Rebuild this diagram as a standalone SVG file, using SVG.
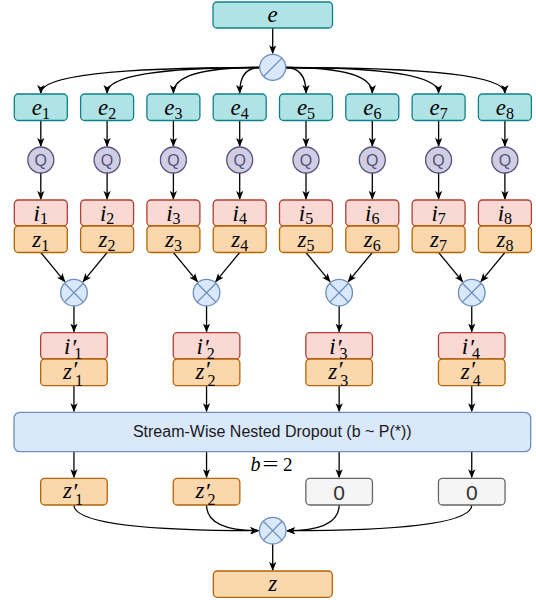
<svg xmlns="http://www.w3.org/2000/svg" width="536" height="600" viewBox="0 0 536 600">
<defs>
<marker id="ah" viewBox="0 0 10 8" refX="9" refY="4" markerWidth="9" markerHeight="7.5" markerUnits="userSpaceOnUse" orient="auto">
<path d="M0,0 L10,4 L0,8 L2.5,4 z" fill="#000"/>
</marker>
<style>
.teal{fill:#b0e3e6;stroke:#0e8088;stroke-width:1.3}
.q{fill:#d0cee2;stroke:#56517e;stroke-width:1.3}
.red{fill:#fad9d5;stroke:#ae4132;stroke-width:1.3}
.org{fill:#fad7ac;stroke:#b46504;stroke-width:1.3}
.blue{fill:#dae8fc;stroke:#6c8ebf;stroke-width:1.3}
.gray{fill:#f5f5f5;stroke:#666666;stroke-width:1.3}
.sym{fill:none;stroke:#6c8ebf;stroke-width:1.3}
.m{font-family:"Liberation Serif","DejaVu Serif",serif;font-style:italic;font-size:23px;fill:#000}
.sub{font-family:"Liberation Serif","DejaVu Serif",serif;font-size:16px;fill:#000}
.pr{font-family:"Liberation Serif","DejaVu Serif",serif;font-size:24px;fill:#000}
.qt{font-family:"Liberation Sans",Arial,sans-serif;font-size:16px;fill:#56517e;text-anchor:middle}
.zero{font-family:"Liberation Sans",Arial,sans-serif;font-size:21px;fill:#333333;text-anchor:middle}
.lbl{font-family:"Liberation Sans",Arial,sans-serif;font-size:16px;fill:#1a1a1a;text-anchor:middle}
.c{fill:none;stroke:#000;stroke-width:1.3;marker-end:url(#ah)}
</style>
</defs>
<rect width="536" height="600" fill="#ffffff"/>

<g id="connectors">
<path class="c" d="M272.7 28 V53.3"/>
<path class="c" d="M259.7 67.5 Q40.8 67.5 40.8 93"/>
<path class="c" d="M259.7 67.5 Q107.1 67.5 107.1 93"/>
<path class="c" d="M259.7 67.5 Q173.4 67.5 173.4 93"/>
<path class="c" d="M259.7 67.5 Q239.7 67.5 239.7 93"/>
<path class="c" d="M285.7 67.5 Q306 67.5 306 93"/>
<path class="c" d="M285.7 67.5 Q372.3 67.5 372.3 93"/>
<path class="c" d="M285.7 67.5 Q438.6 67.5 438.6 93"/>
<path class="c" d="M285.7 67.5 Q504.9 67.5 504.9 93"/>
<path class="c" d="M40.8 120.5 V146"/>
<path class="c" d="M107.1 120.5 V146"/>
<path class="c" d="M173.4 120.5 V146"/>
<path class="c" d="M239.7 120.5 V146"/>
<path class="c" d="M306 120.5 V146"/>
<path class="c" d="M372.3 120.5 V146"/>
<path class="c" d="M438.6 120.5 V146"/>
<path class="c" d="M504.9 120.5 V146"/>
<path class="c" d="M40.8 173 V199"/>
<path class="c" d="M107.1 173 V199"/>
<path class="c" d="M173.4 173 V199"/>
<path class="c" d="M239.7 173 V199"/>
<path class="c" d="M306 173 V199"/>
<path class="c" d="M372.3 173 V199"/>
<path class="c" d="M438.6 173 V199"/>
<path class="c" d="M504.9 173 V199"/>
<path class="c" d="M40.8 252.5 L64.81 281.63"/>
<path class="c" d="M107.1 252.5 L83.09 281.63"/>
<path class="c" d="M173.4 252.5 L197.41 281.63"/>
<path class="c" d="M239.7 252.5 L215.69 281.63"/>
<path class="c" d="M306 252.5 L330.01 281.63"/>
<path class="c" d="M372.3 252.5 L348.29 281.63"/>
<path class="c" d="M438.6 252.5 L462.61 281.63"/>
<path class="c" d="M504.9 252.5 L480.89 281.63"/>
<path class="c" d="M73.95 306 V331.7"/>
<path class="c" d="M206.55 306 V331.7"/>
<path class="c" d="M339.15 306 V331.7"/>
<path class="c" d="M471.75 306 V331.7"/>
<path class="c" d="M73.95 385.7 V411.3"/>
<path class="c" d="M206.55 385.7 V411.3"/>
<path class="c" d="M339.15 385.7 V411.3"/>
<path class="c" d="M471.75 385.7 V411.3"/>
<path class="c" d="M73.95 451.7 V477.3"/>
<path class="c" d="M206.55 451.7 V477.3"/>
<path class="c" d="M339.15 451.7 V477.3"/>
<path class="c" d="M471.75 451.7 V477.3"/>
<path class="c" d="M73.95 505 Q73.95 530.7 258.4 530.7"/>
<path class="c" d="M206.55 505 Q206.55 530.7 258.4 530.7"/>
<path class="c" d="M339.15 505 Q339.15 530.7 287 530.7"/>
<path class="c" d="M471.75 505 Q471.75 530.7 287 530.7"/>
<path class="c" d="M272.7 544 V570"/>
</g>

<g id="node-e">
<rect class="teal" x="213" y="2" width="119.5" height="26" rx="4"/>
<text class="m" x="272.7" y="22" text-anchor="middle">e</text>
</g>

<g id="node-split">
<circle class="blue" cx="272.7" cy="67.3" r="13"/>
<line class="sym" x1="263.5" y1="76.5" x2="281.9" y2="58.1"/>
</g>

<g id="node-e1"><rect class="teal" x="14.3" y="94" width="53" height="26.5" rx="4"/><text x="40.8" y="115" text-anchor="middle"><tspan class="m">e</tspan><tspan class="sub" dy="4">1</tspan></text></g>
<g id="node-e2"><rect class="teal" x="80.6" y="94" width="53" height="26.5" rx="4"/><text x="107.1" y="115" text-anchor="middle"><tspan class="m">e</tspan><tspan class="sub" dy="4">2</tspan></text></g>
<g id="node-e3"><rect class="teal" x="146.9" y="94" width="53" height="26.5" rx="4"/><text x="173.4" y="115" text-anchor="middle"><tspan class="m">e</tspan><tspan class="sub" dy="4">3</tspan></text></g>
<g id="node-e4"><rect class="teal" x="213.2" y="94" width="53" height="26.5" rx="4"/><text x="239.7" y="115" text-anchor="middle"><tspan class="m">e</tspan><tspan class="sub" dy="4">4</tspan></text></g>
<g id="node-e5"><rect class="teal" x="279.5" y="94" width="53" height="26.5" rx="4"/><text x="306" y="115" text-anchor="middle"><tspan class="m">e</tspan><tspan class="sub" dy="4">5</tspan></text></g>
<g id="node-e6"><rect class="teal" x="345.8" y="94" width="53" height="26.5" rx="4"/><text x="372.3" y="115" text-anchor="middle"><tspan class="m">e</tspan><tspan class="sub" dy="4">6</tspan></text></g>
<g id="node-e7"><rect class="teal" x="412.1" y="94" width="53" height="26.5" rx="4"/><text x="438.6" y="115" text-anchor="middle"><tspan class="m">e</tspan><tspan class="sub" dy="4">7</tspan></text></g>
<g id="node-e8"><rect class="teal" x="478.4" y="94" width="53" height="26.5" rx="4"/><text x="504.9" y="115" text-anchor="middle"><tspan class="m">e</tspan><tspan class="sub" dy="4">8</tspan></text></g>

<g id="node-q1"><circle class="q" cx="40.8" cy="160" r="13"/><text class="qt" x="40.8" y="166">Q</text></g>
<g id="node-q2"><circle class="q" cx="107.1" cy="160" r="13"/><text class="qt" x="107.1" y="166">Q</text></g>
<g id="node-q3"><circle class="q" cx="173.4" cy="160" r="13"/><text class="qt" x="173.4" y="166">Q</text></g>
<g id="node-q4"><circle class="q" cx="239.7" cy="160" r="13"/><text class="qt" x="239.7" y="166">Q</text></g>
<g id="node-q5"><circle class="q" cx="306" cy="160" r="13"/><text class="qt" x="306" y="166">Q</text></g>
<g id="node-q6"><circle class="q" cx="372.3" cy="160" r="13"/><text class="qt" x="372.3" y="166">Q</text></g>
<g id="node-q7"><circle class="q" cx="438.6" cy="160" r="13"/><text class="qt" x="438.6" y="166">Q</text></g>
<g id="node-q8"><circle class="q" cx="504.9" cy="160" r="13"/><text class="qt" x="504.9" y="166">Q</text></g>

<g id="node-iz1"><rect class="red" x="14.3" y="200" width="53" height="26" rx="4"/><rect class="org" x="14.3" y="226" width="53" height="26.5" rx="4"/><text x="40.8" y="220.5" text-anchor="middle"><tspan class="m">i</tspan><tspan class="sub" dy="3.5">1</tspan></text><text x="40.8" y="247" text-anchor="middle"><tspan class="m">z</tspan><tspan class="sub" dy="4">1</tspan></text></g>
<g id="node-iz2"><rect class="red" x="80.6" y="200" width="53" height="26" rx="4"/><rect class="org" x="80.6" y="226" width="53" height="26.5" rx="4"/><text x="107.1" y="220.5" text-anchor="middle"><tspan class="m">i</tspan><tspan class="sub" dy="3.5">2</tspan></text><text x="107.1" y="247" text-anchor="middle"><tspan class="m">z</tspan><tspan class="sub" dy="4">2</tspan></text></g>
<g id="node-iz3"><rect class="red" x="146.9" y="200" width="53" height="26" rx="4"/><rect class="org" x="146.9" y="226" width="53" height="26.5" rx="4"/><text x="173.4" y="220.5" text-anchor="middle"><tspan class="m">i</tspan><tspan class="sub" dy="3.5">3</tspan></text><text x="173.4" y="247" text-anchor="middle"><tspan class="m">z</tspan><tspan class="sub" dy="4">3</tspan></text></g>
<g id="node-iz4"><rect class="red" x="213.2" y="200" width="53" height="26" rx="4"/><rect class="org" x="213.2" y="226" width="53" height="26.5" rx="4"/><text x="239.7" y="220.5" text-anchor="middle"><tspan class="m">i</tspan><tspan class="sub" dy="3.5">4</tspan></text><text x="239.7" y="247" text-anchor="middle"><tspan class="m">z</tspan><tspan class="sub" dy="4">4</tspan></text></g>
<g id="node-iz5"><rect class="red" x="279.5" y="200" width="53" height="26" rx="4"/><rect class="org" x="279.5" y="226" width="53" height="26.5" rx="4"/><text x="306" y="220.5" text-anchor="middle"><tspan class="m">i</tspan><tspan class="sub" dy="3.5">5</tspan></text><text x="306" y="247" text-anchor="middle"><tspan class="m">z</tspan><tspan class="sub" dy="4">5</tspan></text></g>
<g id="node-iz6"><rect class="red" x="345.8" y="200" width="53" height="26" rx="4"/><rect class="org" x="345.8" y="226" width="53" height="26.5" rx="4"/><text x="372.3" y="220.5" text-anchor="middle"><tspan class="m">i</tspan><tspan class="sub" dy="3.5">6</tspan></text><text x="372.3" y="247" text-anchor="middle"><tspan class="m">z</tspan><tspan class="sub" dy="4">6</tspan></text></g>
<g id="node-iz7"><rect class="red" x="412.1" y="200" width="53" height="26" rx="4"/><rect class="org" x="412.1" y="226" width="53" height="26.5" rx="4"/><text x="438.6" y="220.5" text-anchor="middle"><tspan class="m">i</tspan><tspan class="sub" dy="3.5">7</tspan></text><text x="438.6" y="247" text-anchor="middle"><tspan class="m">z</tspan><tspan class="sub" dy="4">7</tspan></text></g>
<g id="node-iz8"><rect class="red" x="478.4" y="200" width="53" height="26" rx="4"/><rect class="org" x="478.4" y="226" width="53" height="26.5" rx="4"/><text x="504.9" y="220.5" text-anchor="middle"><tspan class="m">i</tspan><tspan class="sub" dy="3.5">8</tspan></text><text x="504.9" y="247" text-anchor="middle"><tspan class="m">z</tspan><tspan class="sub" dy="4">8</tspan></text></g>

<g id="node-mul1"><circle class="blue" cx="73.95" cy="292.7" r="13.3"/><path class="sym" d="M64.55 283.3 L83.35 302.1 M64.55 302.1 L83.35 283.3"/></g>
<g id="node-mul2"><circle class="blue" cx="206.55" cy="292.7" r="13.3"/><path class="sym" d="M197.15 283.3 L215.95 302.1 M197.15 302.1 L215.95 283.3"/></g>
<g id="node-mul3"><circle class="blue" cx="339.15" cy="292.7" r="13.3"/><path class="sym" d="M329.75 283.3 L348.55 302.1 M329.75 302.1 L348.55 283.3"/></g>
<g id="node-mul4"><circle class="blue" cx="471.75" cy="292.7" r="13.3"/><path class="sym" d="M462.35 283.3 L481.15 302.1 M462.35 302.1 L481.15 283.3"/></g>

<g id="node-izp1"><rect class="red" x="40.65" y="332.7" width="66.6" height="26.3" rx="4"/><rect class="org" x="40.65" y="359" width="66.6" height="26.7" rx="4"/>
<text class="m" x="64" y="353.5">i</text><text class="pr" x="72.45" y="355">′</text><text class="sub" x="74.25" y="359">1</text>
<text class="m" x="62.95" y="378.5">z</text><text class="pr" x="73.45" y="377">′</text><text class="sub" x="74.95" y="385.5">1</text></g>
<g id="node-izp2"><rect class="red" x="173.25" y="332.7" width="66.6" height="26.3" rx="4"/><rect class="org" x="173.25" y="359" width="66.6" height="26.7" rx="4"/>
<text class="m" x="196.6" y="353.5">i</text><text class="pr" x="205.05" y="355">′</text><text class="sub" x="206.85" y="359">2</text>
<text class="m" x="195.55" y="378.5">z</text><text class="pr" x="206.05" y="377">′</text><text class="sub" x="207.55" y="385.5">2</text></g>
<g id="node-izp3"><rect class="red" x="305.85" y="332.7" width="66.6" height="26.3" rx="4"/><rect class="org" x="305.85" y="359" width="66.6" height="26.7" rx="4"/>
<text class="m" x="329.2" y="353.5">i</text><text class="pr" x="337.65" y="355">′</text><text class="sub" x="339.45" y="359">3</text>
<text class="m" x="328.15" y="378.5">z</text><text class="pr" x="338.65" y="377">′</text><text class="sub" x="340.15" y="385.5">3</text></g>
<g id="node-izp4"><rect class="red" x="438.45" y="332.7" width="66.6" height="26.3" rx="4"/><rect class="org" x="438.45" y="359" width="66.6" height="26.7" rx="4"/>
<text class="m" x="461.8" y="353.5">i</text><text class="pr" x="470.25" y="355">′</text><text class="sub" x="472.05" y="359">4</text>
<text class="m" x="460.75" y="378.5">z</text><text class="pr" x="471.25" y="377">′</text><text class="sub" x="472.75" y="385.5">4</text></g>

<g id="node-dropout">
<rect class="blue" x="14" y="412.3" width="516.7" height="39.4" rx="6"/>
<text class="lbl" x="272.3" y="437">Stream-Wise Nested Dropout (b ~ P(*))</text>
</g>

<g id="label-b">
<text class="m" x="250.5" y="470.5" style="font-size:20px">b</text>
<text class="sub" x="262.5" y="470.5" style="font-size:20px" textLength="16" lengthAdjust="spacingAndGlyphs">=</text>
<text class="sub" x="283" y="470.5" style="font-size:19px">2</text>
</g>

<g id="node-zd1"><rect class="org" x="40.65" y="478.3" width="66.6" height="26.7" rx="4"/>
<text class="m" x="62.95" y="498">z</text><text class="pr" x="73.45" y="499">′</text><text class="sub" x="74.95" y="504.8">1</text></g>
<g id="node-zd2"><rect class="org" x="173.25" y="478.3" width="66.6" height="26.7" rx="4"/>
<text class="m" x="195.55" y="498">z</text><text class="pr" x="206.05" y="499">′</text><text class="sub" x="207.55" y="504.8">2</text></g>
<g id="node-zd3"><rect class="gray" x="305.85" y="478.3" width="66.6" height="26.7" rx="4"/><text class="zero" x="339.15" y="499.5">0</text></g>
<g id="node-zd4"><rect class="gray" x="438.45" y="478.3" width="66.6" height="26.7" rx="4"/><text class="zero" x="471.75" y="499.5">0</text></g>

<g id="node-mulout"><circle class="blue" cx="272.7" cy="530.7" r="13.3"/><path class="sym" d="M263.3 521.3 L282.1 540.1 M263.3 540.1 L282.1 521.3"/></g>

<g id="node-z"><rect class="org" x="213.3" y="571" width="119" height="26.3" rx="4"/><text class="m" x="272.7" y="591" text-anchor="middle">z</text></g>
</svg>
